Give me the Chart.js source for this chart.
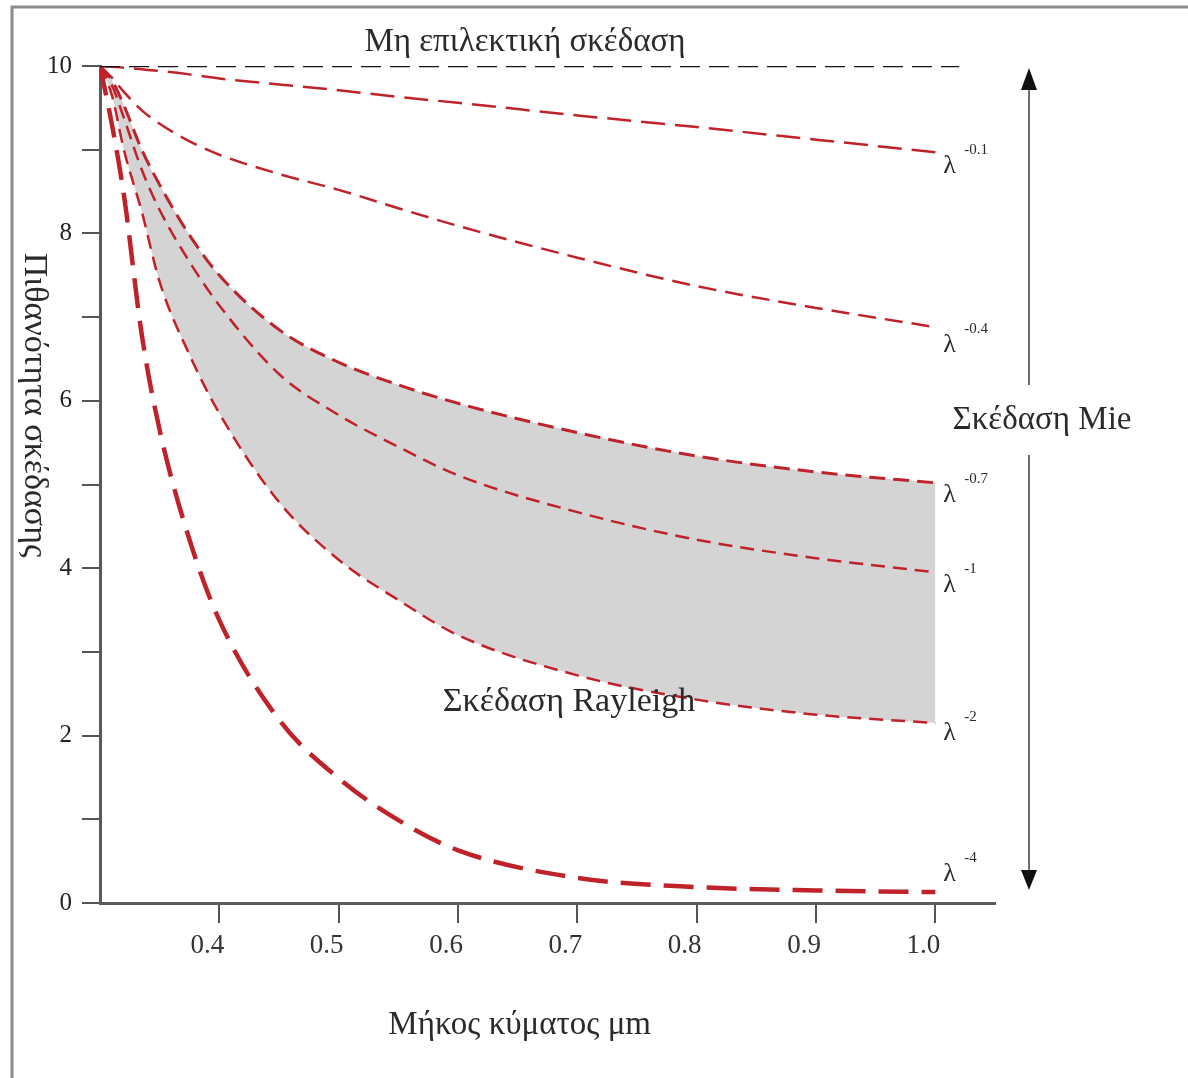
<!DOCTYPE html>
<html>
<head>
<meta charset="utf-8">
<script src="https://cdn.jsdelivr.net/npm/chart.js@4.4.0/dist/chart.umd.min.js"></script>
<style>
  html, body { margin: 0; padding: 0; background: #fff; }
  canvas { display: block; }
</style>
</head>
<body>
<canvas id="chart" width="1188" height="1078"></canvas>
<script>
// Data (y = scattering probability, x = wavelength in μm)
const wavelengths = [0.3, 0.31, 0.32, 0.335, 0.35, 0.375, 0.4, 0.45, 0.5, 0.55, 0.6, 0.7, 0.8, 0.9, 1.0];
const lam01 = [10, 9.99, 9.98, 9.96, 9.94, 9.9, 9.85, 9.78, 9.71, 9.63, 9.56, 9.41, 9.27, 9.12, 8.97];
const lam04 = [10, 9.86, 9.69, 9.47, 9.31, 9.1, 8.94, 8.71, 8.52, 8.3, 8.09, 7.71, 7.37, 7.11, 6.88];
const lam07 = [10, 9.83, 9.53, 9.0, 8.58, 7.98, 7.5, 6.85, 6.46, 6.19, 5.97, 5.62, 5.34, 5.15, 5.02];
const lam1 = [10, 9.77, 9.38, 8.76, 8.28, 7.66, 7.14, 6.32, 5.83, 5.45, 5.11, 4.67, 4.34, 4.12, 3.95];
const lam2 = [10, 9.65, 9.0, 8.26, 7.42, 6.55, 5.85, 4.79, 4.1, 3.62, 3.2, 2.72, 2.43, 2.25, 2.15];
const lam4 = [10, 9.3, 8.46, 6.79, 5.65, 4.34, 3.38, 2.19, 1.49, 0.99, 0.63, 0.3, 0.19, 0.15, 0.13];
const flatX = [0.3, 1.02];
const flatY = [10, 10];
const exponents = ['-0.1', '-0.4', '-0.7', '-1', '-2', '-4'];
const xTicks = [0.4, 0.5, 0.6, 0.7, 0.8, 0.9, 1.0];
const yTicks = [0, 1, 2, 3, 4, 5, 6, 7, 8, 9, 10];
const yLabels = ['0', '', '2', '', '4', '', '6', '', '8', '', '10'];

const topNote = 'Μη επιλεκτική σκέδαση';
const xTitle = 'Μήκος κύματος μm';
const yTitle = 'Πιθανότητα σκέδασης';
const rayleighNote = 'Σκέδαση Rayleigh';
const mieNote = 'Σκέδαση Mie';

const RED = '#c0222a';
const serif = '"Liberation Serif", "DejaVu Serif", serif';
const pts = (xs, ys) => xs.map((x, i) => ({ x, y: ys[i] }));

function curve(values, width, dash, extra) {
  return Object.assign({
    data: pts(wavelengths, values),
    borderColor: RED,
    borderWidth: width,
    borderDash: dash,
    pointRadius: 0,
    fill: false,
    cubicInterpolationMode: 'monotone'
  }, extra || {});
}

// label offsets next to the curve ends (px)
const labelDy = [21, 25, 19, 20, 17, -11];

const decor = {
  id: 'decor',
  afterDraw(chart) {
    const { ctx, chartArea: a, scales: { x, y } } = chart;
    ctx.save();

    // outer frame
    ctx.strokeStyle = '#8c8c8c';
    ctx.lineWidth = 3;
    ctx.beginPath();
    ctx.moveTo(12, 1078); ctx.lineTo(12, 7); ctx.lineTo(1188, 7);
    ctx.stroke();

    ctx.fillStyle = '#2a2a2a';
    ctx.textAlign = 'center';
    ctx.textBaseline = 'middle';
    ctx.font = `33px ${serif}`;
    ctx.fillText(topNote, 525, a.top - 24);
    ctx.fillText(xTitle, x.getPixelForValue(0.65) + 2, 1025);
    ctx.font = `34px ${serif}`;
    ctx.fillText(rayleighNote, x.getPixelForValue(0.693), y.getPixelForValue(2.4));

    // y title, reading top to bottom
    ctx.save();
    ctx.translate(34, 405);
    ctx.rotate(Math.PI / 2);
    ctx.font = `34px ${serif}`;
    ctx.fillText(yTitle, 0, 0);
    ctx.restore();

    // Mie double arrow
    const ax = a.right + 34;
    const top = y.getPixelForValue(10) + 2;
    const bot = y.getPixelForValue(0) - 13;
    const mieY = 420;
    ctx.strokeStyle = '#6e6e6e';
    ctx.lineWidth = 2;
    ctx.beginPath();
    ctx.moveTo(ax, top + 20); ctx.lineTo(ax, mieY - 35);
    ctx.moveTo(ax, mieY + 35); ctx.lineTo(ax, bot - 20);
    ctx.stroke();
    ctx.fillStyle = '#111';
    ctx.beginPath();
    ctx.moveTo(ax, top); ctx.lineTo(ax - 8, top + 22); ctx.lineTo(ax + 8, top + 22); ctx.closePath();
    ctx.moveTo(ax, bot); ctx.lineTo(ax - 8, bot - 20); ctx.lineTo(ax + 8, bot - 20); ctx.closePath();
    ctx.fill();

    ctx.fillStyle = '#2a2a2a';
    ctx.font = `33px ${serif}`;
    ctx.fillText(mieNote, ax + 13, mieY);

    // λ exponent labels at curve ends
    const ends = [lam01, lam04, lam07, lam1, lam2, lam4];
    const px = x.getPixelForValue(wavelengths[wavelengths.length - 1]) + 8;
    ctx.textAlign = 'left';
    ctx.textBaseline = 'alphabetic';
    ends.forEach((s, i) => {
      const py = y.getPixelForValue(s[s.length - 1]) + labelDy[i];
      ctx.font = `26px ${serif}`;
      ctx.fillText('λ', px, py);
      ctx.font = `15px ${serif}`;
      ctx.fillText(exponents[i], px + 21, py - 19);
    });

    ctx.restore();
  }
};

new Chart(document.getElementById('chart'), {
  type: 'line',
  data: {
    datasets: [
      { data: pts(flatX, flatY), borderColor: '#151515', borderWidth: 2.5, borderDash: [20, 9], pointRadius: 0, fill: false },
      curve(lam01, 2.5, [24, 10]),
      curve(lam04, 2.5, [18, 9]),
      curve(lam07, 3, [16, 8], { fill: 5, backgroundColor: '#d4d4d4' }),
      curve(lam1, 2.5, [14, 8]),
      curve(lam2, 2.5, [14, 8]),
      curve(lam4, 4.5, [30, 13])
    ]
  },
  options: {
    responsive: false,
    animation: false,
    layout: { padding: { top: 66, right: 193, left: 0, bottom: 0 } },
    plugins: {
      legend: { display: false },
      tooltip: { enabled: false },
      filler: { propagate: false, drawTime: 'beforeDatasetsDraw' }
    },
    scales: {
      x: {
        type: 'linear',
        min: 0.3,
        max: 1.05,
        afterBuildTicks: s => { s.ticks = xTicks.map(v => ({ value: v })); },
        afterFit: s => { s.height = 175; },
        grid: { drawOnChartArea: false, drawTicks: true, tickLength: 20, color: '#555', lineWidth: 2 },
        border: { display: true, color: '#5a5a5a', width: 3 },
        ticks: {
          font: { family: serif, size: 27 },
          color: '#333',
          padding: 7,
          labelOffset: -12,
          maxRotation: 0,
          autoSkip: false,
          callback: v => v.toFixed(1)
        }
      },
      y: {
        type: 'linear',
        min: 0,
        max: 10,
        afterBuildTicks: s => { s.ticks = yTicks.map(v => ({ value: v })); },
        afterFit: s => { s.width = 100; },
        grid: { drawOnChartArea: false, drawTicks: true, tickLength: 18, color: '#555', lineWidth: 2 },
        border: { display: true, color: '#5a5a5a', width: 3 },
        ticks: {
          font: { family: serif, size: 25 },
          color: '#222',
          padding: 10,
          autoSkip: false,
          callback: (v, i) => yLabels[i]
        }
      }
    }
  },
  plugins: [decor]
});
</script>
</body>
</html>
